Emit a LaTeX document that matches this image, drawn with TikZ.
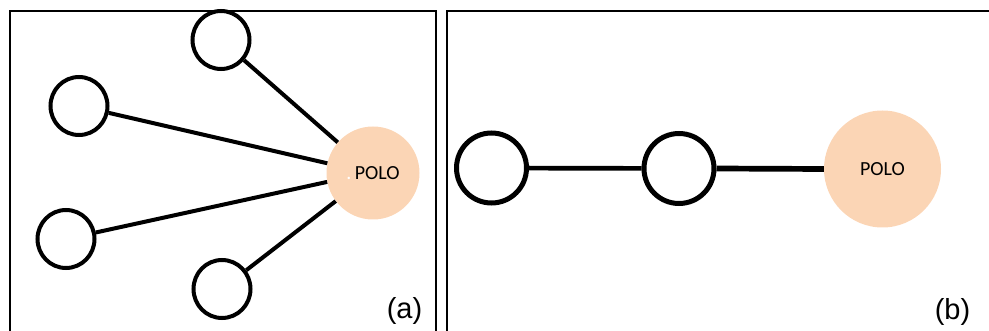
\documentclass[tikz,border=0pt]{standalone}
\usepackage{fontspec}
\setmainfont{Liberation Sans}
\newfontfamily\polofont{Carlito}
\usetikzlibrary{shapes.geometric}
\definecolor{polofill}{RGB}{251,213,181}
\begin{document}
\begin{tikzpicture}[x=1pt,y=-1pt,
  frame/.style={draw=black,line width=2pt},
  smallnode/.style={draw=black,line width=4pt,fill=white,ellipse,inner sep=0pt,minimum width=57pt,minimum height=58pt},
  bignode/.style={draw=black,line width=5pt,fill=white,ellipse,inner sep=0pt,minimum width=70pt,minimum height=70pt},
  polo/.style={fill=polofill,ellipse,inner sep=0pt,font=\polofont\fontsize{20}{24}\selectfont},
  link/.style={draw=black,line width=4pt},
  tag/.style={font=\fontsize{29}{34}\selectfont,inner sep=0pt}]
\useasboundingbox (0,0) rectangle (989,331);
% frames
\draw[frame] (10,340) -- (10,11) -- (435.5,11) -- (435.5,340);
\draw[frame] (447,340) -- (447,11) -- (1000,11);
% panel (a)
\node[polo,minimum width=93pt,minimum height=93pt] (pa) at (373,173) {{\color{white}.}\,POLO};
\node[smallnode] (a1) at (221,40) {};
\node[smallnode] (a2) at (79,106) {};
\node[smallnode] (a3) at (66,239) {};
\node[smallnode] (a4) at (222,289) {};
\draw[link] (a1) -- (pa.139);
\draw[link] (a2) -- (pa.168);
\draw[link] (a3) -- (pa.191);
\draw[link] (a4) -- (pa.217);
\node[tag] (ta) at (404.5,311) {(a)};
% panel (b)
\node[polo,minimum width=117pt,minimum height=117pt] (pb) at (882.5,169) {POLO};
\node[bignode] (b1) at (491.5,168) {};
\node[bignode] (b2) at (679,168.5) {};
\draw[draw=black,line width=4.7pt] (b1) -- (b2);
\draw[draw=black,line width=5.7pt] (b2.east) -- (pb.west);
\node[tag] (tb) at (952.5,312) {(b)};
\end{tikzpicture}
\end{document}
